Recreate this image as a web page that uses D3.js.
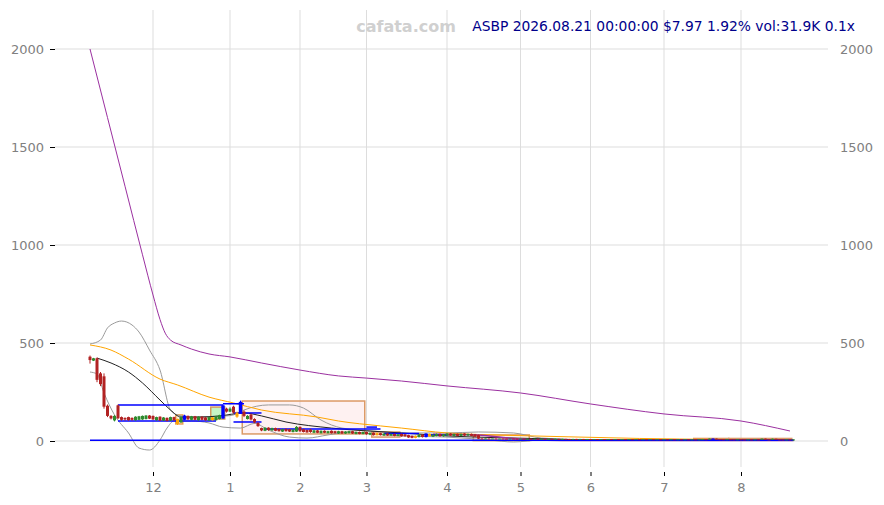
<!DOCTYPE html>
<html><head><meta charset="utf-8">
<script src="https://cdn.jsdelivr.net/npm/d3@7"></script>
<style>body{margin:0;background:#fff}svg{display:block}text{font-family:"DejaVu Sans",sans-serif}</style>
</head><body><svg id="c" width="884" height="505"></svg>
<script>
// ---------- data ----------
const titleText = "ASBP 2026.08.21 00:00:00 $7.97 1.92% vol:31.9K 0.1x";
const watermark = "cafata.com";
const yTicks = [0, 500, 1000, 1500, 2000];
const monthLabels = ["12","1","2","3","4","5","6","7","8"];
const monthIdx = [18, 40, 60, 79, 102, 123, 143, 164, 186];

const opens = [430,410,422,345,330,180,128,105,182,122,118,122,118,106,108,110,112,130,128,106,124,104,118,104,122,112,95,108,128,108,126,106,124,120,104,120,106,112,115,165,150,175,145,140,150,112,135,112,92,
66,52,68,54,66,62,48,62,60,46,48,72,60,56,58,42,54,40,52,40,52,50,38,50,38,40,50,36,46,36,46,32,42,30,40,28,38,28,36,26,36,34,30,26,16,20,32,20,36,22,26,36,24,28,38,26,36,26,38,28,36,34,30,
13,12,13,12.5,12.8,12.2,12.6,12,11.8,12.3,11.9,11.5,11.8,11.2,11.6,11,11.4,10.9,11.2,10.8,11.1,10.6,10.9,10.5,10.8,10.4,10.2,10.6,10.1,10.4,9.9,10.2,9.8,10.1,9.7,9.9,9.5,9.8,9.4,9.7,9.3,9.6,9.2,9.5,9.1,9.4,9,9.3,8.9,9.2,8.8,9.1,8.7,9,8.6,8.9,8.5,8.8,8.4,8.7,8.3,8.6,8.2,8.5,9.4,8.8,9.5,12,9.4,9,8.6,8.9,8.5,8.2,8.6,8.3,8,8.4,8.1,8.5,8.2,11.8,8.4,8.3,11.4,8.6,8.1,7.9,8.2,7.82];
const highs = [436,424,426,352,345,186,132,132,186,125,120,124,120,126,128,130,132,132,130,124,126,122,120,124,124,114,126,134,130,128,128,126,126,122,124,122,128,134,186,170,172,180,150,206,156,132,140,116,96,
68,70,70,68,68,64,62,64,62,60,76,74,62,58,62,56,56,54,54,52,54,52,52,52,50,52,52,48,48,48,48,44,44,42,42,40,40,38,38,36,38,36,32,28,28,34,34,40,38,34,38,38,36,40,40,38,38,38,40,38,38,36,32,
14,13.5,13.4,13.2,13,12.9,12.8,12.3,12.6,12.4,12.1,12.1,11.9,11.9,11.7,11.7,11.5,11.5,11.3,11.4,11.2,11.2,11,11.1,10.9,10.6,10.9,10.7,10.7,10.5,10.5,10.3,10.4,10.2,10.2,10,10.1,9.9,10,9.8,9.9,9.7,9.8,9.6,9.7,9.5,9.6,9.4,9.5,9.3,9.4,9.2,9.3,9.1,9.2,9,9.1,8.9,9,8.8,8.9,8.7,8.8,9.6,9.5,12.5,13,12.2,9.6,9.2,9.1,9,8.7,8.8,8.7,8.4,8.6,8.5,8.7,8.6,12.2,12,8.6,11.8,11.5,8.7,8.2,8.4,8.3,8.1];
const lows = [395,408,300,280,165,122,110,100,112,104,104,104,104,104,106,108,110,112,108,104,102,102,100,102,104,82,92,106,108,106,106,104,106,104,102,104,104,110,112,145,148,140,118,138,122,110,105,90,72,
50,50,52,52,50,48,46,48,46,44,46,46,44,42,42,40,40,38,40,38,38,38,36,36,36,38,36,34,34,34,32,30,28,28,28,26,26,26,24,24,22,22,16,14,14,18,18,18,22,20,24,22,22,26,26,24,24,24,26,26,24,20,10,
11,11.5,12,12.2,11.9,12,11.7,11.5,11.6,11.6,11.2,11.3,11,11,10.8,10.8,10.6,10.7,10.5,10.6,10.3,10.4,10.2,10.3,10.1,9.9,10,9.8,9.9,9.6,9.7,9.5,9.6,9.4,9.5,9.2,9.3,9.1,9.2,9,9.1,8.9,9,8.8,8.9,8.7,8.8,8.6,8.7,8.5,8.6,8.4,8.5,8.3,8.4,8.2,8.3,8.1,8.2,8,8.1,7.9,8,8.4,8.6,8.7,9.2,9.2,8.8,8.4,8.4,8.3,8,8.1,8.1,7.8,7.9,7.9,8,8,8,8.2,8.1,8.2,8.4,8,7.7,7.8,7.7,7.7];
const closes = [413,422,312,290,175,128,115,128,116,108,110,106,108,124,126,128,130,114,110,122,104,120,102,122,106,88,122,130,110,126,108,124,108,106,122,106,126,132,182,150,165,145,124,200,128,128,110,95,76,
54,68,56,66,52,50,60,50,48,58,72,50,46,44,46,54,42,52,42,50,40,40,50,38,48,50,38,46,36,46,34,42,30,40,30,38,28,36,26,34,24,24,18,16,26,32,20,38,24,32,36,24,34,38,28,36,26,36,28,36,26,22,12,
12,13,12.5,12.8,12.2,12.6,12,11.8,12.3,11.9,11.5,11.8,11.2,11.6,11,11.4,10.9,11.2,10.8,11.1,10.6,10.9,10.5,10.8,10.4,10.2,10.6,10.1,10.4,9.9,10.2,9.8,10.1,9.7,9.9,9.5,9.8,9.4,9.7,9.3,9.6,9.2,9.5,9.1,9.4,9,9.3,8.9,9.2,8.8,9.1,8.7,9,8.6,8.9,8.5,8.8,8.4,8.7,8.3,8.6,8.2,8.5,9.4,8.8,12,12.6,9.4,9,8.6,8.9,8.5,8.2,8.6,8.3,8,8.4,8.1,8.5,8.2,11.8,8.4,8.3,11.4,8.6,8.1,7.9,8.2,7.82,7.97];
const blueCandles = [27, 38, 43, 96, 178];
const orangeCandles = [25, 35, 42, 82, 93, 97];

// moving averages / bands: [index, value]
const maLong = [[0,2000],[5,1650],[10,1300],[15,950],[18,745],[20,620],[21.5,550],[23,515],[26,490],[29,469],[34,444],[40,429],[49,398],[60,362],[71,332],[79,321],[89,306],[102,281],[123,245],[143,189],[164,138],[186,102],[200,51]];
const maMid = [[0,490],[6,464],[11,418],[20,316],[25,286],[34,224],[41,194],[49,158],[65,122],[71,102],[83,77],[89,66],[102,41],[126,26],[140,20],[157,13],[180,8],[201,5]];
const maShort = [[2,423],[6,398],[11,352],[15,296],[20,209],[23,158],[26,122],[31,122],[37,128],[44,143],[49,128],[56,97],[69,66],[89,41],[102,26],[126,13],[146,5],[201,5]];
const bandUpper = [[0,495],[3,515],[5,577],[7,602],[9,612],[12,592],[14,556],[17,464],[20,362],[23,158],[25,133],[29,122],[39,128],[41,133],[44,158],[51,184],[57,184],[61,168],[66,107],[72,66],[81,51],[89,41],[102,41],[111,46],[121,41],[129,15],[146,5],[201,3]];
const bandLower = [[0,352],[2,342],[4,245],[7,133],[11,41],[14,-36],[17,-46],[20,5],[22,66],[24,102],[29,102],[34,92],[38,71],[43,66],[47,90],[51,56],[57,20],[62,15],[68,31],[74,46],[81,36],[89,26],[102,20],[114,5],[121,-5],[129,5],[146,3],[201,3]];
const maLow = [[98,34],[105,33],[111,30],[118,18],[126,6],[135,3],[201,3]];

// support / resistance segments: [startIdx, endIdx, value]
const levels = [[8,38,184],[8,36,102],[38,44,190],[41,49,143],[41,49,97],[50,83,61],[79,82,71],[84,94,38],[96,102,31],[0,201,3.5]];
// zones: [startIdx, endIdx, top, bottom, kind]
const zones = [[25,26,133,87,"o"],[35,38,173,112,"g"],[44,78,204,36,"p"],[81,88,46,20,"p"],[110,125,31,2,"p"],[173,182,13,6,"p"],[183,200,13,6,"p"]];

// ---------- drawing ----------
const svg = d3.select("#c");
const L = 55, R = 828, T = 10, B = 467;
const x = d3.scaleLinear().domain([0, 201]).range([90, 793.5]);
const y = d3.scaleLinear().domain([0, 2000]).range([441, 49]);

// grid
svg.append("g").selectAll("line").data(yTicks).join("line")
  .attr("x1", L).attr("x2", R).attr("y1", d => y(d)).attr("y2", d => y(d))
  .attr("stroke", "#dddddd").attr("stroke-width", 1);
svg.append("g").selectAll("line").data(monthIdx).join("line")
  .attr("x1", d => x(d)).attr("x2", d => x(d)).attr("y1", T).attr("y2", B)
  .attr("stroke", "#dddddd").attr("stroke-width", 1);

// axes
const ax = (g) => { g.select(".domain").remove(); g.selectAll("text").attr("fill", "#808080").style("font-size", "13px"); };
const fmt = d3.format("d");
svg.append("g").attr("transform", `translate(${L},0)`)
  .call(d3.axisLeft(y).tickValues(yTicks).tickFormat(fmt).tickSize(5).tickPadding(6))
  .call(ax).call(g => g.selectAll("line").attr("stroke", "#000"));
svg.append("g").attr("transform", `translate(${R},0)`)
  .call(d3.axisRight(y).tickValues(yTicks).tickFormat(fmt).tickSize(0).tickPadding(12))
  .call(ax);
svg.append("g").attr("transform", `translate(0,${B + 5})`)
  .call(d3.axisBottom(x).tickValues(monthIdx).tickFormat((d, i) => monthLabels[i]).tickSize(4).tickPadding(7))
  .call(ax).call(g => g.selectAll("line").attr("stroke", "#000"));

// zones
const zoneStyle = {o: ["rgba(255,190,120,0.25)", "#e8a050"], g: ["rgba(150,235,150,0.55)", "#d49a60"], p: ["rgba(250,200,200,0.25)", "#dc9a66"]};
svg.append("g").selectAll("rect").data(zones).join("rect")
  .attr("x", d => x(d[0] - 0.5)).attr("width", d => x(d[1] + 0.5) - x(d[0] - 0.5))
  .attr("y", d => y(d[2])).attr("height", d => y(d[3]) - y(d[2]))
  .attr("fill", d => zoneStyle[d[4]][0]).attr("stroke", d => zoneStyle[d[4]][1]).attr("stroke-width", 1.5);

// lines
const line = d3.line().x(d => x(d[0])).y(d => y(d[1])).curve(d3.curveMonotoneX);
const drawLine = (data, color, w) => svg.append("path").datum(data).attr("d", line)
  .attr("fill", "none").attr("stroke", color).attr("stroke-width", w);
drawLine(bandUpper, "#9a9a9a", 1);
drawLine(bandLower, "#9a9a9a", 1);
drawLine(maMid, "#ffa500", 1);
drawLine(maShort, "#222222", 1);
drawLine(maLong, "#9b30a0", 1);
drawLine(maLow, "#9b30a0", 1.5);

// levels
svg.append("g").selectAll("line").data(levels).join("line")
  .attr("x1", d => x(d[0])).attr("x2", d => x(d[1])).attr("y1", d => y(d[2])).attr("y2", d => y(d[2]))
  .attr("stroke", "#0000ff").attr("stroke-width", 1.5);

// candles
const idx = d3.range(closes.length);
const col = i => blueCandles.includes(i) ? "#0000ff" : orangeCandles.includes(i) ? "#ffa500" : (closes[i] >= opens[i] ? "#2e8b2e" : "#b22222");
const cg = svg.append("g");
cg.selectAll("line").data(idx).join("line")
  .attr("x1", i => x(i)).attr("x2", i => x(i)).attr("y1", i => y(highs[i])).attr("y2", i => y(lows[i]))
  .attr("stroke", col).attr("stroke-width", 1);
cg.selectAll("rect").data(idx).join("rect")
  .attr("x", i => x(i) - (blueCandles.includes(i) ? 1.7 : 1.5))
  .attr("width", i => blueCandles.includes(i) ? 3.4 : 3)
  .attr("y", i => y(Math.max(opens[i], closes[i])))
  .attr("height", i => Math.max(1, Math.abs(y(opens[i]) - y(closes[i]))))
  .attr("fill", col);

// title
svg.append("text").attr("x", 406).attr("y", 32).attr("text-anchor", "middle")
  .attr("fill", "#d0d0d0").style("font-size", "16px").style("font-weight", "bold").text(watermark);
svg.append("text").attr("x", 855).attr("y", 31).attr("text-anchor", "end")
  .attr("fill", "#00008b").style("font-size", "13.85px").text(titleText);
</script></body></html>
